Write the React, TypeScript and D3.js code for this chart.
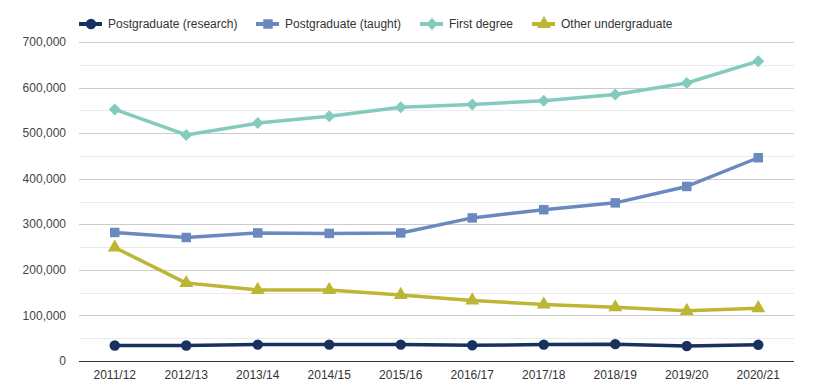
import React, { useEffect, useRef } from "react";
import * as d3 from "d3";

const years = ["2011/12", "2012/13", "2013/14", "2014/15", "2015/16", "2016/17", "2017/18", "2018/19", "2019/20", "2020/21"];
const research = [34000, 34000, 36000, 36000, 36000, 34500, 36000, 37000, 33000, 35500];
const taught = [282000, 271000, 281000, 280000, 281000, 314000, 332000, 347000, 383000, 446000];
const firstDegree = [552000, 496000, 522000, 537000, 557000, 563000, 571000, 585000, 610000, 658000];
const otherUg = [249000, 171000, 156000, 156000, 145000, 133000, 124000, 118000, 110000, 116000];
const yTicks = [0, 100000, 200000, 300000, 400000, 500000, 600000, 700000];

const series = [
  { name: "Postgraduate (research)", values: research, color: "#17325e", marker: d3.symbolCircle, size: 85, rot: 0 },
  { name: "Postgraduate (taught)", values: taught, color: "#6a89bf", marker: d3.symbolSquare, size: 90, rot: 0 },
  { name: "First degree", values: firstDegree, color: "#82cbbd", marker: d3.symbolSquare, size: 72, rot: 45 },
  { name: "Other undergraduate", values: otherUg, color: "#bdb635", marker: d3.symbolTriangle, size: 85, rot: 0 },
];

export default function App() {
  const ref = useRef<SVGSVGElement>(null);

  useEffect(() => {
    const width = 833;
    const height = 389;
    const margin = { top: 42, left: 79, bottom: 28, right: 39 };
    const iwidth = width - margin.left - margin.right;
    const iheight = height - margin.top - margin.bottom;

    const svg = d3.select(ref.current);
    svg.selectAll("*").remove();
    svg.attr("width", width).attr("height", height)
      .style("font-family", "Arial, 'Liberation Sans', sans-serif");

    const g = svg.append("g").attr("transform", `translate(${margin.left}, ${margin.top})`);

    const x = d3.scaleBand().domain(years).range([0, iwidth]);
    const y = d3.scaleLinear().domain([0, 700000]).range([iheight, 0]);

    // minor grid
    g.append("g").selectAll("line")
      .data(d3.range(50000, 700000, 100000))
      .enter().append("line")
      .attr("x1", 0).attr("x2", iwidth)
      .attr("y1", d => Math.round(y(d)) + 0.5).attr("y2", d => Math.round(y(d)) + 0.5)
      .attr("stroke", "#ebebeb").attr("stroke-width", 1);

    // major grid
    g.append("g").selectAll("line")
      .data(yTicks.slice(1))
      .enter().append("line")
      .attr("x1", 0).attr("x2", iwidth)
      .attr("y1", d => Math.round(y(d)) + 0.5).attr("y2", d => Math.round(y(d)) + 0.5)
      .attr("stroke", "#cccccc").attr("stroke-width", 1);

    g.append("line")
      .attr("x1", 0).attr("x2", iwidth)
      .attr("y1", y(0) + 0.5).attr("y2", y(0) + 0.5)
      .attr("stroke", "#333").attr("stroke-width", 1.2);

    g.append("g").selectAll("text")
      .data(yTicks)
      .enter().append("text")
      .attr("x", -13).attr("y", d => y(d))
      .attr("dy", "0.35em")
      .attr("text-anchor", "end")
      .attr("font-size", 12)
      .attr("fill", "#444")
      .text(d => d3.format(",")(d));

    g.append("g").selectAll("text")
      .data(years)
      .enter().append("text")
      .attr("x", d => x(d)! + x.bandwidth() / 2)
      .attr("y", iheight + 18)
      .attr("text-anchor", "middle")
      .attr("font-size", 12)
      .attr("fill", "#333")
      .text(d => d);

    const line = d3.line<number>()
      .x((_, i) => x(years[i])! + x.bandwidth() / 2)
      .y(d => y(d));

    series.forEach(s => {
      g.append("path")
        .datum(s.values)
        .attr("fill", "none")
        .attr("stroke", s.color)
        .attr("stroke-width", 3.5)
        .attr("stroke-linejoin", "round")
        .attr("d", line);

      g.append("g").selectAll("path")
        .data(s.values)
        .enter().append("path")
        .attr("transform", (d, i) => `translate(${x(years[i])! + x.bandwidth() / 2}, ${y(d)}) rotate(${s.rot})`)
        .attr("d", d3.symbol().type(s.marker).size(s.size)())
        .attr("fill", s.color);
    });

    // legend
    const legendX = [79, 256, 420, 532];
    const legend = svg.append("g");
    series.forEach((s, i) => {
      const lg = legend.append("g").attr("transform", `translate(${legendX[i]}, 24)`);
      lg.append("line")
        .attr("x1", 0).attr("x2", 23).attr("y1", 0).attr("y2", 0)
        .attr("stroke", s.color).attr("stroke-width", 4);
      lg.append("path")
        .attr("transform", `translate(12, 0) rotate(${s.rot})`)
        .attr("d", d3.symbol().type(s.marker).size(s.size)())
        .attr("fill", s.color);
      lg.append("text")
        .attr("x", 29).attr("y", 0).attr("dy", "0.35em")
        .attr("font-size", 12)
        .attr("fill", "#333")
        .text(s.name);
    });
  }, []);

  return <svg ref={ref} style={{ position: "absolute", left: 0, top: 0, display: "block" }}></svg>;
}
